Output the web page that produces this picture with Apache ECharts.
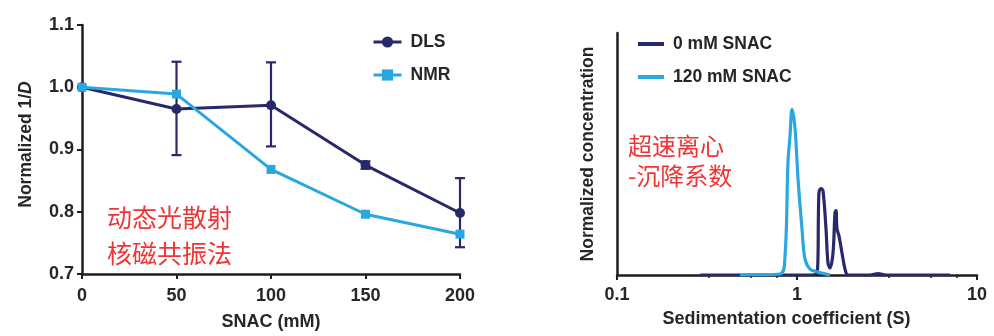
<!DOCTYPE html>
<html><head><meta charset="utf-8">
<script src="https://cdn.jsdelivr.net/npm/echarts@6/dist/echarts.min.js"></script>
<style>html,body{margin:0;padding:0;background:#fff}#c{width:994px;height:336px}</style>
</head><body><div id="c"></div>
<script>
// ---- Left panel data ----
const snac = [0, 50, 100, 150, 200];
const dls = [1.0, 0.965, 0.971, 0.875, 0.798];
const dlsLow = [1.0, 0.891, 0.905, 0.869, 0.743];
const dlsHigh = [1.0, 1.041, 1.040, 0.881, 0.854];
const nmr = [1.0, 0.989, 0.868, 0.796, 0.764];
const yTicks = ['0.7', '0.8', '0.9', '1.0', '1.1'];

// ---- Right panel data (sedimentation coefficient S, normalized concentration) ----
const s0x = [0.29, 0.6, 1.0, 1.292, 1.324, 1.359, 1.394, 1.449, 1.486, 1.525, 1.585, 1.626, 1.647, 1.668, 1.711, 1.778, 1.848, 1.92, 2.54, 2.82, 3.12, 7.08];
const s0y = [0, 0, 0, 0.01, 0.497, 0.521, 0.509, 0.279, 0.073, 0.042, 0.133, 0.376, 0.388, 0.279, 0.236, 0.133, 0.036, 0, 0, 0.008, 0, 0];
const s120x = [0.482, 0.805, 0.858, 0.891, 0.915, 0.938, 0.975, 1.013, 1.066, 1.107, 1.181, 1.292, 1.525];
const s120y = [0, 0.006, 0.115, 0.679, 0.842, 1.0, 0.885, 0.582, 0.279, 0.097, 0.036, 0.02, 0];

const DARK = '#28296b', CYAN = '#2aa7df', AX = '#1e1e1e', TXT = '#262626', RED = '#ee3535';
const F = 'Liberation Sans';
const CJK = 'Noto Sans CJK SC';

const chart = echarts.init(document.getElementById('c'));
const zip = (a, b) => a.map((v, i) => [v, b[i]]);
const lab = (size) => ({ fontSize: size, fontWeight: 'bold', color: TXT, fontFamily: F });

chart.setOption({
  animation: false,
  backgroundColor: '#fff',
  textStyle: { fontFamily: F },
  grid: [
    { left: 82, right: 534, top: 25, bottom: 59 },
    { left: 617, right: 17, top: 33, bottom: 61 }
  ],
  legend: [
    { data: ['DLS', 'NMR'], orient: 'vertical', left: 367, top: 28, itemWidth: 28, itemHeight: 14, itemGap: 15,
      lineStyle: { width: 3 },
      textStyle: Object.assign(lab(17.5), { lineHeight: 14, padding: [0, 0, 0, 4] }) },
    { data: ['0 mM SNAC', '120 mM SNAC'], orient: 'vertical', left: 631, top: 30, itemWidth: 26, itemHeight: 14, itemGap: 15,
      itemStyle: { opacity: 0 }, lineStyle: { width: 4 },
      textStyle: Object.assign(lab(17.5), { lineHeight: 14, padding: [0, 0, 0, 4] }) }
  ],
  xAxis: [
    { gridIndex: 0, type: 'value', min: 0, max: 200, interval: 50,
      name: 'SNAC (mM)', nameLocation: 'middle', nameGap: 39,
      nameTextStyle: lab(18),
      axisLine: { lineStyle: { color: AX, width: 2.5 } },
      axisTick: { length: 5, lineStyle: { color: AX, width: 2 } },
      axisLabel: Object.assign(lab(18), { margin: 13 }),
      splitLine: { show: false } },
    { gridIndex: 1, type: 'log', min: 0.1, max: 10, logBase: 10,
      name: 'Sedimentation coefficient (S)', nameLocation: 'middle', nameGap: 35,
      nameTextStyle: Object.assign(lab(18), { padding: [0, 21, 0, 0] }),
      axisLine: { lineStyle: { color: AX, width: 2.5 } },
      axisTick: { length: 5, lineStyle: { color: AX, width: 2 } },
      minorTick: { show: true, splitNumber: 4, length: 3, lineStyle: { color: AX, width: 1.5 } },
      axisLabel: Object.assign(lab(18), { margin: 11 }),
      splitLine: { show: false }, minorSplitLine: { show: false } }
  ],
  yAxis: [
    { gridIndex: 0, type: 'value', min: 0.7, max: 1.1, interval: 0.1,
      name: '{a|Normalized 1/}{b|D}', nameLocation: 'middle', nameGap: 47,
      nameTextStyle: { padding: [0, 0, 0, 10], rich: {
        a: lab(17.5),
        b: Object.assign(lab(17.5), { fontStyle: 'italic' }) } },
      axisLine: { show: true, lineStyle: { color: AX, width: 2.5 } },
      axisTick: { show: true, length: 5, lineStyle: { color: AX, width: 2 } },
      axisLabel: Object.assign(lab(18), { margin: 8,
        formatter: (v) => yTicks[Math.round((v - 0.7) * 10)] }),
      splitLine: { show: false } },
    { gridIndex: 1, type: 'value', min: 0, max: 1.46,
      name: 'Normalized concentration', nameLocation: 'middle', nameGap: 20,
      nameTextStyle: lab(17.5),
      axisLine: { show: true, lineStyle: { color: AX, width: 2.5 } },
      axisTick: { show: false }, axisLabel: { show: false }, splitLine: { show: false } }
  ],
  series: [
    { name: 'DLS err', type: 'custom', xAxisIndex: 0, yAxisIndex: 0, z: 1,
      data: snac.map((x, i) => [x, dlsLow[i], dlsHigh[i]]),
      renderItem: (params, api) => {
        const x = api.value(0);
        const lo = api.coord([x, api.value(1)]);
        const hi = api.coord([x, api.value(2)]);
        const w = 5;
        const st = { stroke: DARK, lineWidth: 2.2 };
        return { type: 'group', children: [
          { type: 'line', shape: { x1: lo[0], y1: lo[1], x2: hi[0], y2: hi[1] }, style: st },
          { type: 'line', shape: { x1: lo[0] - w, y1: lo[1], x2: lo[0] + w, y2: lo[1] }, style: st },
          { type: 'line', shape: { x1: hi[0] - w, y1: hi[1], x2: hi[0] + w, y2: hi[1] }, style: st }
        ] };
      } },
    { name: 'DLS', type: 'line', xAxisIndex: 0, yAxisIndex: 0, z: 3,
      data: zip(snac, dls), color: DARK, symbol: 'circle', symbolSize: 10,
      lineStyle: { width: 3, color: DARK }, itemStyle: { color: DARK } },
    { name: 'NMR', type: 'line', xAxisIndex: 0, yAxisIndex: 0, z: 4,
      data: zip(snac, nmr), color: CYAN, symbol: 'rect', symbolSize: 9,
      lineStyle: { width: 3, color: CYAN }, itemStyle: { color: CYAN } },
    { name: '0 mM SNAC', type: 'line', xAxisIndex: 1, yAxisIndex: 1, z: 3,
      data: zip(s0x, s0y), color: DARK, symbol: 'none', smooth: 0.35,
      lineStyle: { width: 3.2, color: DARK } },
    { name: '120 mM SNAC', type: 'line', xAxisIndex: 1, yAxisIndex: 1, z: 4,
      data: zip(s120x, s120y), color: CYAN, symbol: 'none', smooth: 0.35,
      lineStyle: { width: 3.2, color: CYAN } }
  ],
  graphic: [
    { type: 'text', left: 107, top: 205, style: { text: '动态光散射', fontSize: 25, fontFamily: CJK, fill: RED } },
    { type: 'text', left: 107, top: 241, style: { text: '核磁共振法', fontSize: 25, fontFamily: CJK, fill: RED } },
    { type: 'text', left: 628, top: 134, style: { text: '超速离心', fontSize: 24, fontFamily: CJK, fill: RED } },
    { type: 'text', left: 628, top: 164, style: { text: '-沉降系数', fontSize: 24, fontFamily: CJK, fill: RED } }
  ]
});
</script></body></html>
